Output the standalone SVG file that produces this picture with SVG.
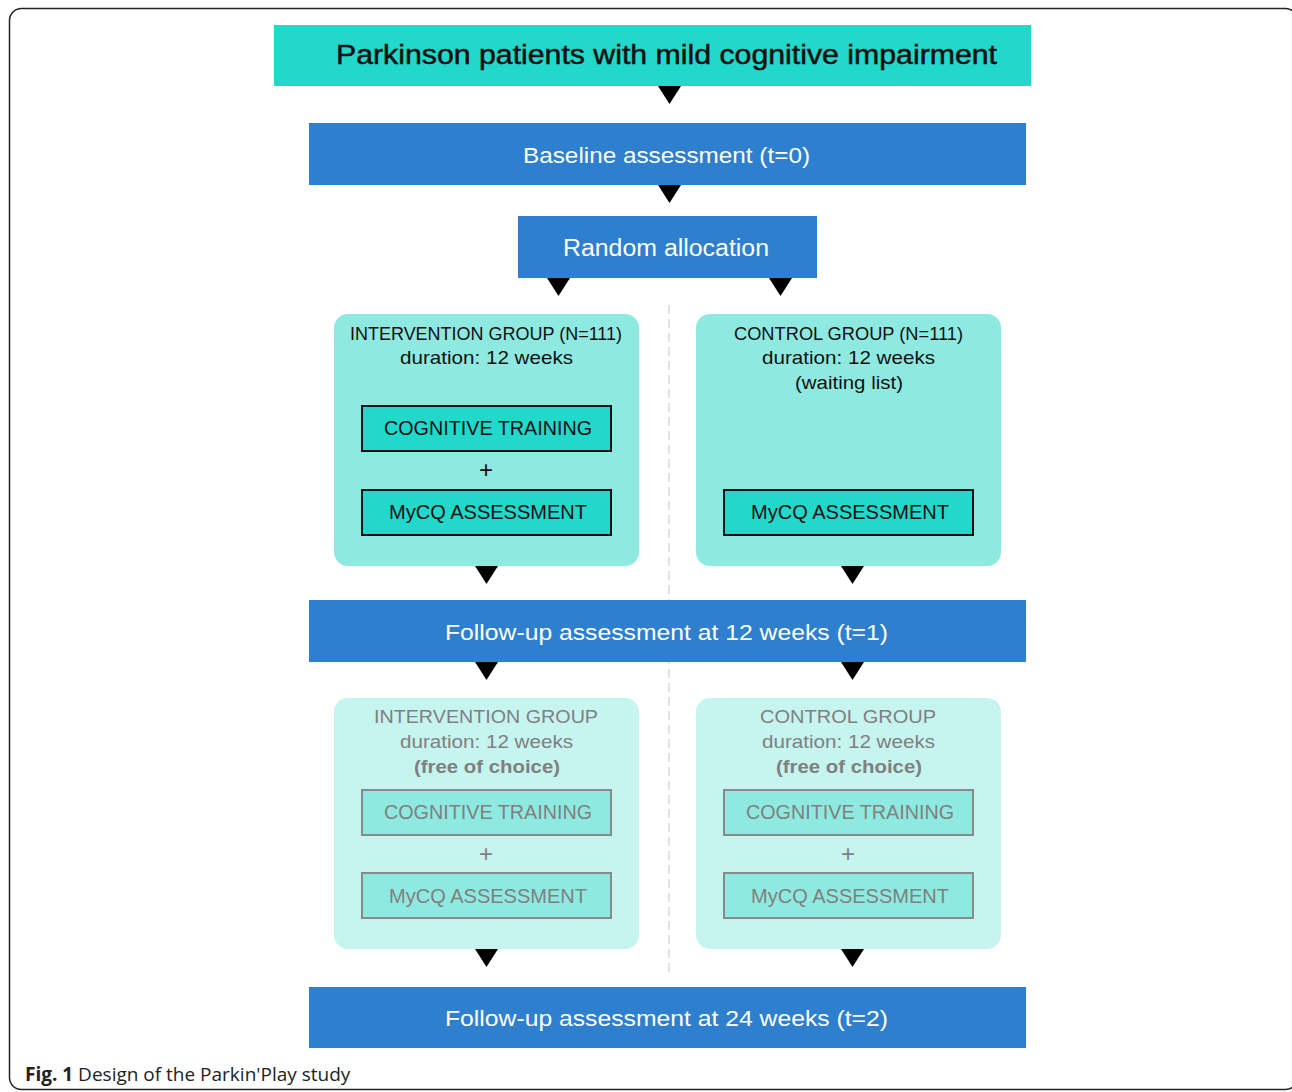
<svg xmlns="http://www.w3.org/2000/svg" width="1292" height="1092" viewBox="0 0 1292 1092">
<style>
.t{font-family:"Liberation Sans",Arial,sans-serif;text-anchor:middle}
.w{fill:#ffffff}
.k{fill:#111111}
.g{fill:#808080}
.blue{fill:#2E7FCD}
.teal{fill:#22D8CB}
.lt{fill:#8EEAE1}
.llt{fill:#C6F4EF}
.ib{fill:#22D8CB;stroke:#111111;stroke-width:2}
.ibg{fill:#8EEAE1;stroke:#8a8a8a;stroke-width:2}
.arr{fill:#000000}
</style>
<rect x="9.5" y="8.5" width="1288" height="1081" rx="12" fill="#ffffff" stroke="#222222" stroke-width="1.5"/>

<g id="connectors">
<line x1="669" y1="305" x2="669" y2="972" stroke="#cfcfcf" stroke-width="1.2" stroke-dasharray="9 5"/>
<polygon class="arr" points="658,86 681,86 669.5,104"/>
<polygon class="arr" points="658,185 681,185 669.5,203"/>
<polygon class="arr" points="547,278 570,278 558.5,296"/>
<polygon class="arr" points="769,278 792,278 780.5,296"/>
<polygon class="arr" points="475,566 498,566 486.5,584"/>
<polygon class="arr" points="841,566 864,566 852.5,584"/>
<polygon class="arr" points="475,662 498,662 486.5,680"/>
<polygon class="arr" points="841,662 864,662 852.5,680"/>
<polygon class="arr" points="475,949 498,949 486.5,967"/>
<polygon class="arr" points="841,949 864,949 852.5,967"/>
</g>

<g id="population">
<rect class="teal" x="274" y="25" width="757" height="61"/>
<text class="t k" x="666.5" y="64" font-size="27" stroke="#111111" stroke-width="0.5" textLength="661" lengthAdjust="spacingAndGlyphs">Parkinson patients with mild cognitive impairment</text>
</g>

<g id="baseline">
<rect class="blue" x="309" y="123" width="717" height="62"/>
<text class="t w" x="666.5" y="163" font-size="22.5" textLength="287" lengthAdjust="spacingAndGlyphs">Baseline assessment (t=0)</text>
</g>

<g id="random">
<rect class="blue" x="518" y="216" width="299" height="62"/>
<text class="t w" x="666" y="256" font-size="23" textLength="206" lengthAdjust="spacingAndGlyphs">Random allocation</text>
</g>

<g id="intervention1">
<rect class="lt" x="334" y="314" width="305" height="252" rx="14"/>
<text class="t k" x="486" y="340" font-size="18.5" textLength="272" lengthAdjust="spacingAndGlyphs">INTERVENTION GROUP (N=111)</text>
<text class="t k" x="486.5" y="364" font-size="18.5" textLength="173" lengthAdjust="spacingAndGlyphs">duration: 12 weeks</text>
<rect class="ib" x="362" y="406" width="249" height="45"/>
<text class="t k" x="488" y="435" font-size="20" textLength="208" lengthAdjust="spacingAndGlyphs">COGNITIVE TRAINING</text>
<text class="t k" x="486" y="478" font-size="24">+</text>
<rect class="ib" x="362" y="490" width="249" height="45"/>
<text class="t k" x="488" y="519" font-size="20" textLength="198" lengthAdjust="spacingAndGlyphs">MyCQ ASSESSMENT</text>
</g>

<g id="control1">
<rect class="lt" x="696" y="314" width="305" height="252" rx="14"/>
<text class="t k" x="848.5" y="340" font-size="18.5" textLength="229" lengthAdjust="spacingAndGlyphs">CONTROL GROUP (N=111)</text>
<text class="t k" x="848.5" y="364" font-size="18.5" textLength="173" lengthAdjust="spacingAndGlyphs">duration: 12 weeks</text>
<text class="t k" x="849" y="389" font-size="18.5" textLength="108" lengthAdjust="spacingAndGlyphs">(waiting list)</text>
<rect class="ib" x="724" y="490" width="249" height="45"/>
<text class="t k" x="850" y="519" font-size="20" textLength="198" lengthAdjust="spacingAndGlyphs">MyCQ ASSESSMENT</text>
</g>

<g id="followup12">
<rect class="blue" x="309" y="600" width="717" height="62"/>
<text class="t w" x="666.5" y="640" font-size="22.5" textLength="443" lengthAdjust="spacingAndGlyphs">Follow-up assessment at 12 weeks (t=1)</text>
</g>

<g id="intervention2">
<rect class="llt" x="334" y="698" width="305" height="251" rx="14"/>
<text class="t g" x="486" y="723" font-size="18.5" textLength="224" lengthAdjust="spacingAndGlyphs">INTERVENTION GROUP</text>
<text class="t g" x="486.5" y="748" font-size="18.5" textLength="173" lengthAdjust="spacingAndGlyphs">duration: 12 weeks</text>
<text class="t g" x="487" y="773" font-size="18.5" font-weight="bold" textLength="146" lengthAdjust="spacingAndGlyphs">(free of choice)</text>
<rect class="ibg" x="362" y="790" width="249" height="45"/>
<text class="t g" x="488" y="819" font-size="20" textLength="208" lengthAdjust="spacingAndGlyphs">COGNITIVE TRAINING</text>
<text class="t g" x="486" y="862" font-size="24">+</text>
<rect class="ibg" x="362" y="873" width="249" height="45"/>
<text class="t g" x="488" y="903" font-size="20" textLength="198" lengthAdjust="spacingAndGlyphs">MyCQ ASSESSMENT</text>
</g>

<g id="control2">
<rect class="llt" x="696" y="698" width="305" height="251" rx="14"/>
<text class="t g" x="848" y="723" font-size="18.5" textLength="176" lengthAdjust="spacingAndGlyphs">CONTROL GROUP</text>
<text class="t g" x="848.5" y="748" font-size="18.5" textLength="173" lengthAdjust="spacingAndGlyphs">duration: 12 weeks</text>
<text class="t g" x="849" y="773" font-size="18.5" font-weight="bold" textLength="146" lengthAdjust="spacingAndGlyphs">(free of choice)</text>
<rect class="ibg" x="724" y="790" width="249" height="45"/>
<text class="t g" x="850" y="819" font-size="20" textLength="208" lengthAdjust="spacingAndGlyphs">COGNITIVE TRAINING</text>
<text class="t g" x="848" y="862" font-size="24">+</text>
<rect class="ibg" x="724" y="873" width="249" height="45"/>
<text class="t g" x="850" y="903" font-size="20" textLength="198" lengthAdjust="spacingAndGlyphs">MyCQ ASSESSMENT</text>
</g>

<g id="followup24">
<rect class="blue" x="309" y="987" width="717" height="61"/>
<text class="t w" x="666.5" y="1026" font-size="22.5" textLength="443" lengthAdjust="spacingAndGlyphs">Follow-up assessment at 24 weeks (t=2)</text>
</g>

<g id="caption">
<text x="25" y="1081" font-family="'Open Sans','Noto Sans',sans-serif" font-size="19" fill="#222222"><tspan font-weight="bold">Fig. 1</tspan> Design of the Parkin'Play study</text>
</g>
</svg>
